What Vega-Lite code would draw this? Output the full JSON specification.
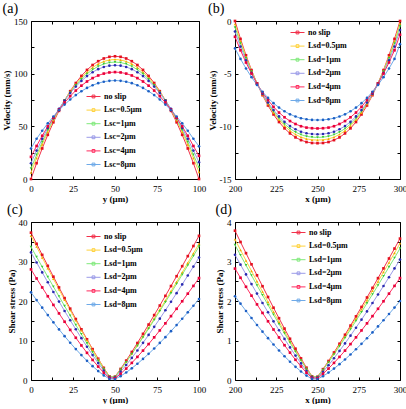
{
"$schema":"https://vega.github.io/schema/vega-lite/v6.json",
"padding":{"left":2,"top":2,"right":0,"bottom":0},
"config":{
"font":"Liberation Serif",
"view":{"stroke":null},
"axis":{"labelFont":"Liberation Serif","labelFontSize":9,"labelColor":"black","titleFont":"Liberation Serif","titleFontSize":9,"titleFontWeight":"bold","titleColor":"black","domainColor":"black","tickColor":"black","grid":false,"tickSize":-3,"labelPadding":6,"domainWidth":1,"tickWidth":1,"labelFlush":false,"titlePadding":2},
"axisX":{"labelPadding":8,"titlePadding":1},
"axisY":{"labelPadding":7},
"legend":{"orient":"none","labelFont":"Liberation Serif","labelFontSize":8,"labelFontWeight":"bold","labelColor":"black","padding":0,"rowPadding":1.6,"symbolType":"M-1,0H1M-0.2,-0.2H0.2V0.2H-0.2Z","symbolSize":196,"symbolStrokeWidth":1,"labelOffset":3},
"title":{"font":"Liberation Serif","fontSize":14,"fontWeight":"normal","anchor":"start","frame":"bounds","offset":1,"color":"black"}
},
"datasets":{
"a":[
{"s":"no slip","x":0,"y":0},{"s":"no slip","x":3.33,"y":15.02},{"s":"no slip","x":6.67,"y":29},{"s":"no slip","x":10,"y":41.94},{"s":"no slip","x":13.33,"y":53.85},{"s":"no slip","x":16.67,"y":64.72},{"s":"no slip","x":20,"y":74.56},{"s":"no slip","x":23.33,"y":83.37},{"s":"no slip","x":26.67,"y":91.13},{"s":"no slip","x":30,"y":97.86},{"s":"no slip","x":33.33,"y":103.56},{"s":"no slip","x":36.67,"y":108.22},{"s":"no slip","x":40,"y":111.84},{"s":"no slip","x":43.33,"y":114.43},{"s":"no slip","x":46.67,"y":115.99},{"s":"no slip","x":50,"y":116.5},{"s":"no slip","x":53.33,"y":115.99},{"s":"no slip","x":56.67,"y":114.43},{"s":"no slip","x":60,"y":111.84},{"s":"no slip","x":63.33,"y":108.22},{"s":"no slip","x":66.67,"y":103.56},{"s":"no slip","x":70,"y":97.86},{"s":"no slip","x":73.33,"y":91.13},{"s":"no slip","x":76.67,"y":83.37},{"s":"no slip","x":80,"y":74.56},{"s":"no slip","x":83.33,"y":64.72},{"s":"no slip","x":86.67,"y":53.85},{"s":"no slip","x":90,"y":41.94},{"s":"no slip","x":93.33,"y":29},{"s":"no slip","x":96.67,"y":15.02},{"s":"no slip","x":100,"y":0},
{"s":"0.5","x":0,"y":6},{"s":"0.5","x":3.33,"y":19.86},{"s":"0.5","x":6.67,"y":32.76},{"s":"0.5","x":10,"y":44.7},{"s":"0.5","x":13.33,"y":55.69},{"s":"0.5","x":16.67,"y":65.73},{"s":"0.5","x":20,"y":74.8},{"s":"0.5","x":23.33,"y":82.93},{"s":"0.5","x":26.67,"y":90.09},{"s":"0.5","x":30,"y":96.3},{"s":"0.5","x":33.33,"y":101.56},{"s":"0.5","x":36.67,"y":105.86},{"s":"0.5","x":40,"y":109.2},{"s":"0.5","x":43.33,"y":111.59},{"s":"0.5","x":46.67,"y":113.03},{"s":"0.5","x":50,"y":113.5},{"s":"0.5","x":53.33,"y":113.03},{"s":"0.5","x":56.67,"y":111.59},{"s":"0.5","x":60,"y":109.2},{"s":"0.5","x":63.33,"y":105.86},{"s":"0.5","x":66.67,"y":101.56},{"s":"0.5","x":70,"y":96.3},{"s":"0.5","x":73.33,"y":90.09},{"s":"0.5","x":76.67,"y":82.93},{"s":"0.5","x":80,"y":74.8},{"s":"0.5","x":83.33,"y":65.73},{"s":"0.5","x":86.67,"y":55.69},{"s":"0.5","x":90,"y":44.7},{"s":"0.5","x":93.33,"y":32.76},{"s":"0.5","x":96.67,"y":19.86},{"s":"0.5","x":100,"y":6.5},
{"s":"1","x":0,"y":10},{"s":"1","x":3.33,"y":23.02},{"s":"1","x":6.67,"y":35.14},{"s":"1","x":10,"y":46.36},{"s":"1","x":13.33,"y":56.68},{"s":"1","x":16.67,"y":66.11},{"s":"1","x":20,"y":74.64},{"s":"1","x":23.33,"y":82.28},{"s":"1","x":26.67,"y":89},{"s":"1","x":30,"y":94.84},{"s":"1","x":33.33,"y":99.78},{"s":"1","x":36.67,"y":103.82},{"s":"1","x":40,"y":106.96},{"s":"1","x":43.33,"y":109.2},{"s":"1","x":46.67,"y":110.56},{"s":"1","x":50,"y":111},{"s":"1","x":53.33,"y":110.56},{"s":"1","x":56.67,"y":109.2},{"s":"1","x":60,"y":106.96},{"s":"1","x":63.33,"y":103.82},{"s":"1","x":66.67,"y":99.78},{"s":"1","x":70,"y":94.84},{"s":"1","x":73.33,"y":89},{"s":"1","x":76.67,"y":82.28},{"s":"1","x":80,"y":74.64},{"s":"1","x":83.33,"y":66.11},{"s":"1","x":86.67,"y":56.68},{"s":"1","x":90,"y":46.36},{"s":"1","x":93.33,"y":35.14},{"s":"1","x":96.67,"y":23.02},{"s":"1","x":100,"y":11},
{"s":"2","x":0,"y":15},{"s":"2","x":3.33,"y":26.99},{"s":"2","x":6.67,"y":38.15},{"s":"2","x":10,"y":48.48},{"s":"2","x":13.33,"y":57.98},{"s":"2","x":16.67,"y":66.67},{"s":"2","x":20,"y":74.52},{"s":"2","x":23.33,"y":81.55},{"s":"2","x":26.67,"y":87.74},{"s":"2","x":30,"y":93.12},{"s":"2","x":33.33,"y":97.67},{"s":"2","x":36.67,"y":101.39},{"s":"2","x":40,"y":104.28},{"s":"2","x":43.33,"y":106.34},{"s":"2","x":46.67,"y":107.59},{"s":"2","x":50,"y":108},{"s":"2","x":53.33,"y":107.59},{"s":"2","x":56.67,"y":106.34},{"s":"2","x":60,"y":104.28},{"s":"2","x":63.33,"y":101.39},{"s":"2","x":66.67,"y":97.67},{"s":"2","x":70,"y":93.12},{"s":"2","x":73.33,"y":87.74},{"s":"2","x":76.67,"y":81.55},{"s":"2","x":80,"y":74.52},{"s":"2","x":83.33,"y":66.67},{"s":"2","x":86.67,"y":57.98},{"s":"2","x":90,"y":48.48},{"s":"2","x":93.33,"y":38.15},{"s":"2","x":96.67,"y":26.99},{"s":"2","x":100,"y":16},
{"s":"4","x":0,"y":21},{"s":"4","x":3.33,"y":31.38},{"s":"4","x":6.67,"y":41.04},{"s":"4","x":10,"y":49.98},{"s":"4","x":13.33,"y":58.21},{"s":"4","x":16.67,"y":65.73},{"s":"4","x":20,"y":72.52},{"s":"4","x":23.33,"y":78.61},{"s":"4","x":26.67,"y":83.97},{"s":"4","x":30,"y":88.62},{"s":"4","x":33.33,"y":92.56},{"s":"4","x":36.67,"y":95.78},{"s":"4","x":40,"y":98.28},{"s":"4","x":43.33,"y":100.07},{"s":"4","x":46.67,"y":101.15},{"s":"4","x":50,"y":101.5},{"s":"4","x":53.33,"y":101.15},{"s":"4","x":56.67,"y":100.07},{"s":"4","x":60,"y":98.28},{"s":"4","x":63.33,"y":95.78},{"s":"4","x":66.67,"y":92.56},{"s":"4","x":70,"y":88.62},{"s":"4","x":73.33,"y":83.97},{"s":"4","x":76.67,"y":78.61},{"s":"4","x":80,"y":72.52},{"s":"4","x":83.33,"y":65.73},{"s":"4","x":86.67,"y":58.21},{"s":"4","x":90,"y":49.98},{"s":"4","x":93.33,"y":41.04},{"s":"4","x":96.67,"y":31.38},{"s":"4","x":100,"y":22},
{"s":"8","x":0,"y":29},{"s":"8","x":3.33,"y":38.19},{"s":"8","x":6.67,"y":45.81},{"s":"8","x":10,"y":52.86},{"s":"8","x":13.33,"y":59.35},{"s":"8","x":16.67,"y":65.28},{"s":"8","x":20,"y":70.64},{"s":"8","x":23.33,"y":75.44},{"s":"8","x":26.67,"y":79.67},{"s":"8","x":30,"y":83.34},{"s":"8","x":33.33,"y":86.45},{"s":"8","x":36.67,"y":88.99},{"s":"8","x":40,"y":90.96},{"s":"8","x":43.33,"y":92.37},{"s":"8","x":46.67,"y":93.22},{"s":"8","x":50,"y":93.5},{"s":"8","x":53.33,"y":93.22},{"s":"8","x":56.67,"y":92.37},{"s":"8","x":60,"y":90.96},{"s":"8","x":63.33,"y":88.99},{"s":"8","x":66.67,"y":86.45},{"s":"8","x":70,"y":83.34},{"s":"8","x":73.33,"y":79.67},{"s":"8","x":76.67,"y":75.44},{"s":"8","x":80,"y":70.64},{"s":"8","x":83.33,"y":65.28},{"s":"8","x":86.67,"y":59.35},{"s":"8","x":90,"y":52.86},{"s":"8","x":93.33,"y":45.81},{"s":"8","x":96.67,"y":38.19},{"s":"8","x":100,"y":31}
],
"b":[
{"s":"no slip","x":200,"y":0},{"s":"no slip","x":203.33,"y":-1.7},{"s":"no slip","x":206.67,"y":-3.25},{"s":"no slip","x":210,"y":-4.66},{"s":"no slip","x":213.33,"y":-5.92},{"s":"no slip","x":216.67,"y":-7.04},{"s":"no slip","x":220,"y":-8.02},{"s":"no slip","x":223.33,"y":-8.87},{"s":"no slip","x":226.67,"y":-9.59},{"s":"no slip","x":230,"y":-10.19},{"s":"no slip","x":233.33,"y":-10.67},{"s":"no slip","x":236.67,"y":-11.05},{"s":"no slip","x":240,"y":-11.31},{"s":"no slip","x":243.33,"y":-11.49},{"s":"no slip","x":246.67,"y":-11.58},{"s":"no slip","x":250,"y":-11.6},{"s":"no slip","x":253.33,"y":-11.58},{"s":"no slip","x":256.67,"y":-11.49},{"s":"no slip","x":260,"y":-11.31},{"s":"no slip","x":263.33,"y":-11.05},{"s":"no slip","x":266.67,"y":-10.67},{"s":"no slip","x":270,"y":-10.19},{"s":"no slip","x":273.33,"y":-9.59},{"s":"no slip","x":276.67,"y":-8.87},{"s":"no slip","x":280,"y":-8.02},{"s":"no slip","x":283.33,"y":-7.04},{"s":"no slip","x":286.67,"y":-5.92},{"s":"no slip","x":290,"y":-4.66},{"s":"no slip","x":293.33,"y":-3.25},{"s":"no slip","x":296.67,"y":-1.7},{"s":"no slip","x":300,"y":0},
{"s":"0.5","x":200,"y":-0.3},{"s":"0.5","x":203.33,"y":-1.91},{"s":"0.5","x":206.67,"y":-3.38},{"s":"0.5","x":210,"y":-4.72},{"s":"0.5","x":213.33,"y":-5.91},{"s":"0.5","x":216.67,"y":-6.97},{"s":"0.5","x":220,"y":-7.9},{"s":"0.5","x":223.33,"y":-8.71},{"s":"0.5","x":226.67,"y":-9.39},{"s":"0.5","x":230,"y":-9.96},{"s":"0.5","x":233.33,"y":-10.42},{"s":"0.5","x":236.67,"y":-10.77},{"s":"0.5","x":240,"y":-11.03},{"s":"0.5","x":243.33,"y":-11.19},{"s":"0.5","x":246.67,"y":-11.28},{"s":"0.5","x":250,"y":-11.3},{"s":"0.5","x":253.33,"y":-11.28},{"s":"0.5","x":256.67,"y":-11.19},{"s":"0.5","x":260,"y":-11.03},{"s":"0.5","x":263.33,"y":-10.77},{"s":"0.5","x":266.67,"y":-10.42},{"s":"0.5","x":270,"y":-9.96},{"s":"0.5","x":273.33,"y":-9.39},{"s":"0.5","x":276.67,"y":-8.71},{"s":"0.5","x":280,"y":-7.9},{"s":"0.5","x":283.33,"y":-6.97},{"s":"0.5","x":286.67,"y":-5.91},{"s":"0.5","x":290,"y":-4.72},{"s":"0.5","x":293.33,"y":-3.38},{"s":"0.5","x":296.67,"y":-1.91},{"s":"0.5","x":300,"y":-0.25},
{"s":"1","x":200,"y":-0.6},{"s":"1","x":203.33,"y":-2.13},{"s":"1","x":206.67,"y":-3.53},{"s":"1","x":210,"y":-4.79},{"s":"1","x":213.33,"y":-5.93},{"s":"1","x":216.67,"y":-6.94},{"s":"1","x":220,"y":-7.82},{"s":"1","x":223.33,"y":-8.59},{"s":"1","x":226.67,"y":-9.24},{"s":"1","x":230,"y":-9.78},{"s":"1","x":233.33,"y":-10.22},{"s":"1","x":236.67,"y":-10.55},{"s":"1","x":240,"y":-10.79},{"s":"1","x":243.33,"y":-10.95},{"s":"1","x":246.67,"y":-11.03},{"s":"1","x":250,"y":-11.05},{"s":"1","x":253.33,"y":-11.03},{"s":"1","x":256.67,"y":-10.95},{"s":"1","x":260,"y":-10.79},{"s":"1","x":263.33,"y":-10.55},{"s":"1","x":266.67,"y":-10.22},{"s":"1","x":270,"y":-9.78},{"s":"1","x":273.33,"y":-9.24},{"s":"1","x":276.67,"y":-8.59},{"s":"1","x":280,"y":-7.82},{"s":"1","x":283.33,"y":-6.94},{"s":"1","x":286.67,"y":-5.93},{"s":"1","x":290,"y":-4.79},{"s":"1","x":293.33,"y":-3.53},{"s":"1","x":296.67,"y":-2.13},{"s":"1","x":300,"y":-0.5},
{"s":"2","x":200,"y":-1},{"s":"2","x":203.33,"y":-2.43},{"s":"2","x":206.67,"y":-3.73},{"s":"2","x":210,"y":-4.91},{"s":"2","x":213.33,"y":-5.97},{"s":"2","x":216.67,"y":-6.91},{"s":"2","x":220,"y":-7.74},{"s":"2","x":223.33,"y":-8.45},{"s":"2","x":226.67,"y":-9.06},{"s":"2","x":230,"y":-9.57},{"s":"2","x":233.33,"y":-9.97},{"s":"2","x":236.67,"y":-10.28},{"s":"2","x":240,"y":-10.51},{"s":"2","x":243.33,"y":-10.66},{"s":"2","x":246.67,"y":-10.73},{"s":"2","x":250,"y":-10.75},{"s":"2","x":253.33,"y":-10.73},{"s":"2","x":256.67,"y":-10.66},{"s":"2","x":260,"y":-10.51},{"s":"2","x":263.33,"y":-10.28},{"s":"2","x":266.67,"y":-9.97},{"s":"2","x":270,"y":-9.57},{"s":"2","x":273.33,"y":-9.06},{"s":"2","x":276.67,"y":-8.45},{"s":"2","x":280,"y":-7.74},{"s":"2","x":283.33,"y":-6.91},{"s":"2","x":286.67,"y":-5.97},{"s":"2","x":290,"y":-4.91},{"s":"2","x":293.33,"y":-3.73},{"s":"2","x":296.67,"y":-2.43},{"s":"2","x":300,"y":-0.85},
{"s":"4","x":200,"y":-1.5},{"s":"4","x":203.33,"y":-2.78},{"s":"4","x":206.67,"y":-3.94},{"s":"4","x":210,"y":-4.99},{"s":"4","x":213.33,"y":-5.94},{"s":"4","x":216.67,"y":-6.78},{"s":"4","x":220,"y":-7.51},{"s":"4","x":223.33,"y":-8.15},{"s":"4","x":226.67,"y":-8.69},{"s":"4","x":230,"y":-9.14},{"s":"4","x":233.33,"y":-9.5},{"s":"4","x":236.67,"y":-9.78},{"s":"4","x":240,"y":-9.99},{"s":"4","x":243.33,"y":-10.12},{"s":"4","x":246.67,"y":-10.18},{"s":"4","x":250,"y":-10.2},{"s":"4","x":253.33,"y":-10.18},{"s":"4","x":256.67,"y":-10.12},{"s":"4","x":260,"y":-9.99},{"s":"4","x":263.33,"y":-9.78},{"s":"4","x":266.67,"y":-9.5},{"s":"4","x":270,"y":-9.14},{"s":"4","x":273.33,"y":-8.69},{"s":"4","x":276.67,"y":-8.15},{"s":"4","x":280,"y":-7.51},{"s":"4","x":283.33,"y":-6.78},{"s":"4","x":286.67,"y":-5.94},{"s":"4","x":290,"y":-4.99},{"s":"4","x":293.33,"y":-3.94},{"s":"4","x":296.67,"y":-2.78},{"s":"4","x":300,"y":-1.3},
{"s":"8","x":200,"y":-2.6},{"s":"8","x":203.33,"y":-3.6},{"s":"8","x":206.67,"y":-4.51},{"s":"8","x":210,"y":-5.33},{"s":"8","x":213.33,"y":-6.07},{"s":"8","x":216.67,"y":-6.72},{"s":"8","x":220,"y":-7.3},{"s":"8","x":223.33,"y":-7.8},{"s":"8","x":226.67,"y":-8.22},{"s":"8","x":230,"y":-8.57},{"s":"8","x":233.33,"y":-8.86},{"s":"8","x":236.67,"y":-9.07},{"s":"8","x":240,"y":-9.23},{"s":"8","x":243.33,"y":-9.33},{"s":"8","x":246.67,"y":-9.39},{"s":"8","x":250,"y":-9.4},{"s":"8","x":253.33,"y":-9.39},{"s":"8","x":256.67,"y":-9.33},{"s":"8","x":260,"y":-9.23},{"s":"8","x":263.33,"y":-9.07},{"s":"8","x":266.67,"y":-8.86},{"s":"8","x":270,"y":-8.57},{"s":"8","x":273.33,"y":-8.22},{"s":"8","x":276.67,"y":-7.8},{"s":"8","x":280,"y":-7.3},{"s":"8","x":283.33,"y":-6.72},{"s":"8","x":286.67,"y":-6.07},{"s":"8","x":290,"y":-5.33},{"s":"8","x":293.33,"y":-4.51},{"s":"8","x":296.67,"y":-3.6},{"s":"8","x":300,"y":-2.2}
],
"c":[
{"s":"no slip","x":0,"y":37.3},{"s":"no slip","x":3.33,"y":34.48},{"s":"no slip","x":6.67,"y":31.68},{"s":"no slip","x":10,"y":28.9},{"s":"no slip","x":13.33,"y":26.15},{"s":"no slip","x":16.67,"y":23.43},{"s":"no slip","x":20,"y":20.73},{"s":"no slip","x":23.33,"y":18.06},{"s":"no slip","x":26.67,"y":15.43},{"s":"no slip","x":30,"y":12.84},{"s":"no slip","x":33.33,"y":10.3},{"s":"no slip","x":36.67,"y":7.81},{"s":"no slip","x":40,"y":5.39},{"s":"no slip","x":43.33,"y":3.07},{"s":"no slip","x":46.67,"y":0.92},{"s":"no slip","x":50,"y":0.84},{"s":"no slip","x":53.33,"y":2.8},{"s":"no slip","x":56.67,"y":4.91},{"s":"no slip","x":60,"y":7.1},{"s":"no slip","x":63.33,"y":9.36},{"s":"no slip","x":66.67,"y":11.68},{"s":"no slip","x":70,"y":14.03},{"s":"no slip","x":73.33,"y":16.43},{"s":"no slip","x":76.67,"y":18.85},{"s":"no slip","x":80,"y":21.3},{"s":"no slip","x":83.33,"y":23.78},{"s":"no slip","x":86.67,"y":26.28},{"s":"no slip","x":90,"y":28.81},{"s":"no slip","x":93.33,"y":31.36},{"s":"no slip","x":96.67,"y":33.92},{"s":"no slip","x":100,"y":36.5},
{"s":"0.5","x":0,"y":36.5},{"s":"0.5","x":3.33,"y":33.74},{"s":"0.5","x":6.67,"y":31},{"s":"0.5","x":10,"y":28.28},{"s":"0.5","x":13.33,"y":25.59},{"s":"0.5","x":16.67,"y":22.93},{"s":"0.5","x":20,"y":20.28},{"s":"0.5","x":23.33,"y":17.67},{"s":"0.5","x":26.67,"y":15.1},{"s":"0.5","x":30,"y":12.57},{"s":"0.5","x":33.33,"y":10.08},{"s":"0.5","x":36.67,"y":7.64},{"s":"0.5","x":40,"y":5.28},{"s":"0.5","x":43.33,"y":3.01},{"s":"0.5","x":46.67,"y":0.9},{"s":"0.5","x":50,"y":0.79},{"s":"0.5","x":53.33,"y":2.64},{"s":"0.5","x":56.67,"y":4.64},{"s":"0.5","x":60,"y":6.71},{"s":"0.5","x":63.33,"y":8.85},{"s":"0.5","x":66.67,"y":11.04},{"s":"0.5","x":70,"y":13.27},{"s":"0.5","x":73.33,"y":15.53},{"s":"0.5","x":76.67,"y":17.82},{"s":"0.5","x":80,"y":20.13},{"s":"0.5","x":83.33,"y":22.48},{"s":"0.5","x":86.67,"y":24.84},{"s":"0.5","x":90,"y":27.23},{"s":"0.5","x":93.33,"y":29.64},{"s":"0.5","x":96.67,"y":32.06},{"s":"0.5","x":100,"y":34.5},
{"s":"1","x":0,"y":33.7},{"s":"1","x":3.33,"y":31.15},{"s":"1","x":6.67,"y":28.62},{"s":"1","x":10,"y":26.11},{"s":"1","x":13.33,"y":23.63},{"s":"1","x":16.67,"y":21.17},{"s":"1","x":20,"y":18.73},{"s":"1","x":23.33,"y":16.32},{"s":"1","x":26.67,"y":13.94},{"s":"1","x":30,"y":11.6},{"s":"1","x":33.33,"y":9.3},{"s":"1","x":36.67,"y":7.06},{"s":"1","x":40,"y":4.87},{"s":"1","x":43.33,"y":2.78},{"s":"1","x":46.67,"y":0.83},{"s":"1","x":50,"y":0.77},{"s":"1","x":53.33,"y":2.59},{"s":"1","x":56.67,"y":4.54},{"s":"1","x":60,"y":6.58},{"s":"1","x":63.33,"y":8.67},{"s":"1","x":66.67,"y":10.81},{"s":"1","x":70,"y":13},{"s":"1","x":73.33,"y":15.21},{"s":"1","x":76.67,"y":17.45},{"s":"1","x":80,"y":19.73},{"s":"1","x":83.33,"y":22.02},{"s":"1","x":86.67,"y":24.34},{"s":"1","x":90,"y":26.68},{"s":"1","x":93.33,"y":29.04},{"s":"1","x":96.67,"y":31.41},{"s":"1","x":100,"y":33.8},
{"s":"2","x":0,"y":32.3},{"s":"2","x":3.33,"y":29.75},{"s":"2","x":6.67,"y":27.23},{"s":"2","x":10,"y":24.74},{"s":"2","x":13.33,"y":22.28},{"s":"2","x":16.67,"y":19.86},{"s":"2","x":20,"y":17.48},{"s":"2","x":23.33,"y":15.13},{"s":"2","x":26.67,"y":12.84},{"s":"2","x":30,"y":10.59},{"s":"2","x":33.33,"y":8.41},{"s":"2","x":36.67,"y":6.3},{"s":"2","x":40,"y":4.28},{"s":"2","x":43.33,"y":2.38},{"s":"2","x":46.67,"y":0.67},{"s":"2","x":50,"y":0.6},{"s":"2","x":53.33,"y":2.11},{"s":"2","x":56.67,"y":3.8},{"s":"2","x":60,"y":5.6},{"s":"2","x":63.33,"y":7.48},{"s":"2","x":66.67,"y":9.41},{"s":"2","x":70,"y":11.41},{"s":"2","x":73.33,"y":13.45},{"s":"2","x":76.67,"y":15.53},{"s":"2","x":80,"y":17.66},{"s":"2","x":83.33,"y":19.81},{"s":"2","x":86.67,"y":21.99},{"s":"2","x":90,"y":24.2},{"s":"2","x":93.33,"y":26.45},{"s":"2","x":96.67,"y":28.71},{"s":"2","x":100,"y":31},
{"s":"4","x":0,"y":28},{"s":"4","x":3.33,"y":25.7},{"s":"4","x":6.67,"y":23.43},{"s":"4","x":10,"y":21.2},{"s":"4","x":13.33,"y":19.01},{"s":"4","x":16.67,"y":16.86},{"s":"4","x":20,"y":14.75},{"s":"4","x":23.33,"y":12.69},{"s":"4","x":26.67,"y":10.69},{"s":"4","x":30,"y":8.75},{"s":"4","x":33.33,"y":6.88},{"s":"4","x":36.67,"y":5.08},{"s":"4","x":40,"y":3.4},{"s":"4","x":43.33,"y":1.84},{"s":"4","x":46.67,"y":0.49},{"s":"4","x":50,"y":0.42},{"s":"4","x":53.33,"y":1.57},{"s":"4","x":56.67,"y":2.89},{"s":"4","x":60,"y":4.33},{"s":"4","x":63.33,"y":5.85},{"s":"4","x":66.67,"y":7.44},{"s":"4","x":70,"y":9.09},{"s":"4","x":73.33,"y":10.8},{"s":"4","x":76.67,"y":12.55},{"s":"4","x":80,"y":14.34},{"s":"4","x":83.33,"y":16.17},{"s":"4","x":86.67,"y":18.03},{"s":"4","x":90,"y":19.93},{"s":"4","x":93.33,"y":21.86},{"s":"4","x":96.67,"y":23.82},{"s":"4","x":100,"y":25.8},
{"s":"8","x":0,"y":22.2},{"s":"8","x":3.33,"y":20.23},{"s":"8","x":6.67,"y":18.31},{"s":"8","x":10,"y":16.43},{"s":"8","x":13.33,"y":14.59},{"s":"8","x":16.67,"y":12.81},{"s":"8","x":20,"y":11.09},{"s":"8","x":23.33,"y":9.42},{"s":"8","x":26.67,"y":7.82},{"s":"8","x":30,"y":6.3},{"s":"8","x":33.33,"y":4.85},{"s":"8","x":36.67,"y":3.5},{"s":"8","x":40,"y":2.26},{"s":"8","x":43.33,"y":1.16},{"s":"8","x":46.67,"y":0.28},{"s":"8","x":50,"y":0.24},{"s":"8","x":53.33,"y":0.98},{"s":"8","x":56.67,"y":1.91},{"s":"8","x":60,"y":2.96},{"s":"8","x":63.33,"y":4.11},{"s":"8","x":66.67,"y":5.33},{"s":"8","x":70,"y":6.62},{"s":"8","x":73.33,"y":7.98},{"s":"8","x":76.67,"y":9.39},{"s":"8","x":80,"y":10.85},{"s":"8","x":83.33,"y":12.36},{"s":"8","x":86.67,"y":13.91},{"s":"8","x":90,"y":15.5},{"s":"8","x":93.33,"y":17.13},{"s":"8","x":96.67,"y":18.8},{"s":"8","x":100,"y":20.5}
],
"d":[
{"s":"no slip","x":200,"y":3.78},{"s":"no slip","x":203.33,"y":3.494},{"s":"no slip","x":206.67,"y":3.211},{"s":"no slip","x":210,"y":2.929},{"s":"no slip","x":213.33,"y":2.65},{"s":"no slip","x":216.67,"y":2.374},{"s":"no slip","x":220,"y":2.101},{"s":"no slip","x":223.33,"y":1.83},{"s":"no slip","x":226.67,"y":1.564},{"s":"no slip","x":230,"y":1.301},{"s":"no slip","x":233.33,"y":1.044},{"s":"no slip","x":236.67,"y":0.792},{"s":"no slip","x":240,"y":0.547},{"s":"no slip","x":243.33,"y":0.311},{"s":"no slip","x":246.67,"y":0.093},{"s":"no slip","x":250,"y":0.082},{"s":"no slip","x":253.33,"y":0.274},{"s":"no slip","x":256.67,"y":0.481},{"s":"no slip","x":260,"y":0.697},{"s":"no slip","x":263.33,"y":0.918},{"s":"no slip","x":266.67,"y":1.145},{"s":"no slip","x":270,"y":1.377},{"s":"no slip","x":273.33,"y":1.611},{"s":"no slip","x":276.67,"y":1.849},{"s":"no slip","x":280,"y":2.089},{"s":"no slip","x":283.33,"y":2.332},{"s":"no slip","x":286.67,"y":2.578},{"s":"no slip","x":290,"y":2.826},{"s":"no slip","x":293.33,"y":3.076},{"s":"no slip","x":296.67,"y":3.327},{"s":"no slip","x":300,"y":3.58},
{"s":"0.5","x":200,"y":3.56},{"s":"0.5","x":203.33,"y":3.291},{"s":"0.5","x":206.67,"y":3.024},{"s":"0.5","x":210,"y":2.759},{"s":"0.5","x":213.33,"y":2.496},{"s":"0.5","x":216.67,"y":2.236},{"s":"0.5","x":220,"y":1.978},{"s":"0.5","x":223.33,"y":1.724},{"s":"0.5","x":226.67,"y":1.473},{"s":"0.5","x":230,"y":1.226},{"s":"0.5","x":233.33,"y":0.983},{"s":"0.5","x":236.67,"y":0.745},{"s":"0.5","x":240,"y":0.515},{"s":"0.5","x":243.33,"y":0.293},{"s":"0.5","x":246.67,"y":0.088},{"s":"0.5","x":250,"y":0.079},{"s":"0.5","x":253.33,"y":0.265},{"s":"0.5","x":256.67,"y":0.465},{"s":"0.5","x":260,"y":0.673},{"s":"0.5","x":263.33,"y":0.887},{"s":"0.5","x":266.67,"y":1.107},{"s":"0.5","x":270,"y":1.33},{"s":"0.5","x":273.33,"y":1.557},{"s":"0.5","x":276.67,"y":1.787},{"s":"0.5","x":280,"y":2.019},{"s":"0.5","x":283.33,"y":2.254},{"s":"0.5","x":286.67,"y":2.492},{"s":"0.5","x":290,"y":2.731},{"s":"0.5","x":293.33,"y":2.972},{"s":"0.5","x":296.67,"y":3.215},{"s":"0.5","x":300,"y":3.46},
{"s":"1","x":200,"y":3.42},{"s":"1","x":203.33,"y":3.161},{"s":"1","x":206.67,"y":2.905},{"s":"1","x":210,"y":2.65},{"s":"1","x":213.33,"y":2.398},{"s":"1","x":216.67,"y":2.148},{"s":"1","x":220,"y":1.9},{"s":"1","x":223.33,"y":1.656},{"s":"1","x":226.67,"y":1.415},{"s":"1","x":230,"y":1.178},{"s":"1","x":233.33,"y":0.944},{"s":"1","x":236.67,"y":0.716},{"s":"1","x":240,"y":0.495},{"s":"1","x":243.33,"y":0.282},{"s":"1","x":246.67,"y":0.084},{"s":"1","x":250,"y":0.076},{"s":"1","x":253.33,"y":0.255},{"s":"1","x":256.67,"y":0.448},{"s":"1","x":260,"y":0.648},{"s":"1","x":263.33,"y":0.854},{"s":"1","x":266.67,"y":1.065},{"s":"1","x":270,"y":1.28},{"s":"1","x":273.33,"y":1.499},{"s":"1","x":276.67,"y":1.72},{"s":"1","x":280,"y":1.943},{"s":"1","x":283.33,"y":2.169},{"s":"1","x":286.67,"y":2.398},{"s":"1","x":290,"y":2.628},{"s":"1","x":293.33,"y":2.861},{"s":"1","x":296.67,"y":3.094},{"s":"1","x":300,"y":3.33},
{"s":"2","x":200,"y":3.17},{"s":"2","x":203.33,"y":2.92},{"s":"2","x":206.67,"y":2.673},{"s":"2","x":210,"y":2.428},{"s":"2","x":213.33,"y":2.187},{"s":"2","x":216.67,"y":1.95},{"s":"2","x":220,"y":1.715},{"s":"2","x":223.33,"y":1.485},{"s":"2","x":226.67,"y":1.26},{"s":"2","x":230,"y":1.04},{"s":"2","x":233.33,"y":0.825},{"s":"2","x":236.67,"y":0.618},{"s":"2","x":240,"y":0.42},{"s":"2","x":243.33,"y":0.233},{"s":"2","x":246.67,"y":0.066},{"s":"2","x":250,"y":0.059},{"s":"2","x":253.33,"y":0.208},{"s":"2","x":256.67,"y":0.374},{"s":"2","x":260,"y":0.551},{"s":"2","x":263.33,"y":0.736},{"s":"2","x":266.67,"y":0.926},{"s":"2","x":270,"y":1.123},{"s":"2","x":273.33,"y":1.324},{"s":"2","x":276.67,"y":1.528},{"s":"2","x":280,"y":1.737},{"s":"2","x":283.33,"y":1.949},{"s":"2","x":286.67,"y":2.164},{"s":"2","x":290,"y":2.381},{"s":"2","x":293.33,"y":2.602},{"s":"2","x":296.67,"y":2.825},{"s":"2","x":300,"y":3.05},
{"s":"4","x":200,"y":2.82},{"s":"4","x":203.33,"y":2.588},{"s":"4","x":206.67,"y":2.36},{"s":"4","x":210,"y":2.135},{"s":"4","x":213.33,"y":1.914},{"s":"4","x":216.67,"y":1.698},{"s":"4","x":220,"y":1.486},{"s":"4","x":223.33,"y":1.278},{"s":"4","x":226.67,"y":1.077},{"s":"4","x":230,"y":0.881},{"s":"4","x":233.33,"y":0.693},{"s":"4","x":236.67,"y":0.512},{"s":"4","x":240,"y":0.342},{"s":"4","x":243.33,"y":0.185},{"s":"4","x":246.67,"y":0.05},{"s":"4","x":250,"y":0.042},{"s":"4","x":253.33,"y":0.157},{"s":"4","x":256.67,"y":0.289},{"s":"4","x":260,"y":0.433},{"s":"4","x":263.33,"y":0.585},{"s":"4","x":266.67,"y":0.744},{"s":"4","x":270,"y":0.909},{"s":"4","x":273.33,"y":1.08},{"s":"4","x":276.67,"y":1.255},{"s":"4","x":280,"y":1.434},{"s":"4","x":283.33,"y":1.617},{"s":"4","x":286.67,"y":1.803},{"s":"4","x":290,"y":1.993},{"s":"4","x":293.33,"y":2.186},{"s":"4","x":296.67,"y":2.382},{"s":"4","x":300,"y":2.58},
{"s":"8","x":200,"y":2.12},{"s":"8","x":203.33,"y":1.932},{"s":"8","x":206.67,"y":1.748},{"s":"8","x":210,"y":1.569},{"s":"8","x":213.33,"y":1.393},{"s":"8","x":216.67,"y":1.224},{"s":"8","x":220,"y":1.059},{"s":"8","x":223.33,"y":0.9},{"s":"8","x":226.67,"y":0.747},{"s":"8","x":230,"y":0.601},{"s":"8","x":233.33,"y":0.463},{"s":"8","x":236.67,"y":0.334},{"s":"8","x":240,"y":0.216},{"s":"8","x":243.33,"y":0.111},{"s":"8","x":246.67,"y":0.027},{"s":"8","x":250,"y":0.023},{"s":"8","x":253.33,"y":0.096},{"s":"8","x":256.67,"y":0.187},{"s":"8","x":260,"y":0.289},{"s":"8","x":263.33,"y":0.401},{"s":"8","x":266.67,"y":0.52},{"s":"8","x":270,"y":0.646},{"s":"8","x":273.33,"y":0.778},{"s":"8","x":276.67,"y":0.916},{"s":"8","x":280,"y":1.058},{"s":"8","x":283.33,"y":1.205},{"s":"8","x":286.67,"y":1.357},{"s":"8","x":290,"y":1.512},{"s":"8","x":293.33,"y":1.671},{"s":"8","x":296.67,"y":1.834},{"s":"8","x":300,"y":2.0}
]
},
"columns":2,
"spacing":{"row":0,"column":2},
"concat":[
{"title":{"text":"(a)"},"width":168,"height":158,"data":{"name":"a"},
"layer":[
{"mark":{"type":"line","strokeWidth":1},
"encoding":{
"x":{"field":"x","type":"quantitative","scale":{"domain":[0,100],"nice":false},"axis":{"title":"y (μm)","orient":"bottom","values":[0,12.5,25,37.5,50,62.5,75,87.5,100],"labelExpr":"datum.value % 25 == 0 ? '' + datum.value : ''"}},
"y":{"field":"y","type":"quantitative","scale":{"domain":[0,150],"nice":false},"axis":{"title":"Velocity (mm/s)","orient":"left","values":[0,25,50,75,100,125,150],"labelExpr":"datum.value % 50 == 0 ? '' + datum.value : ''"}},
"color":{"field":"s","type":"nominal","scale":{"domain":["no slip","0.5","1","2","4","8"],"range":["#f2314b","#ffd23c","#7fe97a","#9b9be8","#ff2c5f","#6faae8"]},"legend":{"title":null,"legendX":55,"legendY":68,"labelExpr":"datum.label == 'no slip' ? 'no slip' : 'Lsc=' + datum.label + 'μm'"}}
}},
{"mark":{"type":"point","filled":true,"size":7,"opacity":1},
"encoding":{
"x":{"field":"x","type":"quantitative","axis":{"title":null,"orient":"top","labels":false,"values":[0,12.5,25,37.5,50,62.5,75,87.5,100]}},
"y":{"field":"y","type":"quantitative","axis":{"title":null,"orient":"right","labels":false,"values":[0,25,50,75,100,125,150]}},
"color":{"field":"s","type":"nominal","scale":{"domain":["no slip","0.5","1","2","4","8"],"range":["#e3101e","#f0a800","#36c936","#2a2ab0","#e8003a","#1d5fc4"]},"legend":null},
"shape":{"field":"s","type":"nominal","scale":{"domain":["no slip","0.5","1","2","4","8"],"range":["square","triangle-up","triangle-down","circle","square","circle"]},"legend":null}
}}
],
"resolve":{"scale":{"color":"independent","shape":"independent"},"axis":{"x":"independent","y":"independent"}}
},
{"title":{"text":"(b)"},"width":165,"height":158,"data":{"name":"b"},
"layer":[
{"mark":{"type":"line","strokeWidth":1},
"encoding":{
"x":{"field":"x","type":"quantitative","scale":{"domain":[200,300],"nice":false},"axis":{"title":"x (μm)","orient":"bottom","values":[200,212.5,225,237.5,250,262.5,275,287.5,300],"labelExpr":"datum.value % 25 == 0 ? '' + datum.value : ''"}},
"y":{"field":"y","type":"quantitative","scale":{"domain":[-15,0],"nice":false},"axis":{"title":"Velocity (mm/s)","orient":"left","values":[-15,-12.5,-10,-7.5,-5,-2.5,0],"labelExpr":"datum.value % 5 == 0 ? '' + datum.value : ''"}},
"color":{"field":"s","type":"nominal","scale":{"domain":["no slip","0.5","1","2","4","8"],"range":["#f2314b","#ffd23c","#7fe97a","#9b9be8","#ff2c5f","#6faae8"]},"legend":{"title":null,"legendX":55,"legendY":4,"labelExpr":"datum.label == 'no slip' ? 'no slip' : 'Lsd=' + datum.label + 'μm'"}}
}},
{"mark":{"type":"point","filled":true,"size":7,"opacity":1},
"encoding":{
"x":{"field":"x","type":"quantitative","axis":{"title":null,"orient":"top","labels":false,"values":[200,212.5,225,237.5,250,262.5,275,287.5,300]}},
"y":{"field":"y","type":"quantitative","axis":{"title":null,"orient":"right","labels":false,"values":[-15,-12.5,-10,-7.5,-5,-2.5,0]}},
"color":{"field":"s","type":"nominal","scale":{"domain":["no slip","0.5","1","2","4","8"],"range":["#e3101e","#f0a800","#36c936","#2a2ab0","#e8003a","#1d5fc4"]},"legend":null},
"shape":{"field":"s","type":"nominal","scale":{"domain":["no slip","0.5","1","2","4","8"],"range":["square","triangle-up","triangle-down","circle","square","circle"]},"legend":null}
}}
],
"resolve":{"scale":{"color":"independent","shape":"independent"},"axis":{"x":"independent","y":"independent"}}
},
{"title":{"text":"(c)"},"width":168,"height":158,"data":{"name":"c"},
"layer":[
{"mark":{"type":"line","strokeWidth":1},
"encoding":{
"x":{"field":"x","type":"quantitative","scale":{"domain":[0,100],"nice":false},"axis":{"title":"y (μm)","orient":"bottom","values":[0,12.5,25,37.5,50,62.5,75,87.5,100],"labelExpr":"datum.value % 25 == 0 ? '' + datum.value : ''"}},
"y":{"field":"y","type":"quantitative","scale":{"domain":[0,40],"nice":false},"axis":{"title":"Shear stress (Pa)","orient":"left","values":[0,5,10,15,20,25,30,35,40],"labelExpr":"datum.value % 10 == 0 ? '' + datum.value : ''"}},
"color":{"field":"s","type":"nominal","scale":{"domain":["no slip","0.5","1","2","4","8"],"range":["#f2314b","#ffd23c","#7fe97a","#9b9be8","#ff2c5f","#6faae8"]},"legend":{"title":null,"legendX":55,"legendY":7,"labelExpr":"datum.label == 'no slip' ? 'no slip' : 'Lsd=' + datum.label + 'μm'"}}
}},
{"mark":{"type":"point","filled":true,"size":7,"opacity":1},
"encoding":{
"x":{"field":"x","type":"quantitative","axis":{"title":null,"orient":"top","labels":false,"values":[0,12.5,25,37.5,50,62.5,75,87.5,100]}},
"y":{"field":"y","type":"quantitative","axis":{"title":null,"orient":"right","labels":false,"values":[0,5,10,15,20,25,30,35,40]}},
"color":{"field":"s","type":"nominal","scale":{"domain":["no slip","0.5","1","2","4","8"],"range":["#e3101e","#f0a800","#36c936","#2a2ab0","#e8003a","#1d5fc4"]},"legend":null},
"shape":{"field":"s","type":"nominal","scale":{"domain":["no slip","0.5","1","2","4","8"],"range":["square","triangle-up","triangle-down","circle","square","circle"]},"legend":null}
}}
],
"resolve":{"scale":{"color":"independent","shape":"independent"},"axis":{"x":"independent","y":"independent"}}
},
{"title":{"text":"(d)"},"width":165,"height":158,"data":{"name":"d"},
"layer":[
{"mark":{"type":"line","strokeWidth":1},
"encoding":{
"x":{"field":"x","type":"quantitative","scale":{"domain":[200,300],"nice":false},"axis":{"title":"x (μm)","orient":"bottom","values":[200,212.5,225,237.5,250,262.5,275,287.5,300],"labelExpr":"datum.value % 25 == 0 ? '' + datum.value : ''"}},
"y":{"field":"y","type":"quantitative","scale":{"domain":[0,4],"nice":false},"axis":{"title":"Shear stress (Pa)","orient":"left","values":[0,0.5,1,1.5,2,2.5,3,3.5,4],"labelExpr":"datum.value % 1 == 0 ? '' + datum.value : ''"}},
"color":{"field":"s","type":"nominal","scale":{"domain":["no slip","0.5","1","2","4","8"],"range":["#f2314b","#ffd23c","#7fe97a","#9b9be8","#ff2c5f","#6faae8"]},"legend":{"title":null,"legendX":56,"legendY":3,"labelExpr":"datum.label == 'no slip' ? 'no slip' : 'Lsd=' + datum.label + 'μm'"}}
}},
{"mark":{"type":"point","filled":true,"size":7,"opacity":1},
"encoding":{
"x":{"field":"x","type":"quantitative","axis":{"title":null,"orient":"top","labels":false,"values":[200,212.5,225,237.5,250,262.5,275,287.5,300]}},
"y":{"field":"y","type":"quantitative","axis":{"title":null,"orient":"right","labels":false,"values":[0,0.5,1,1.5,2,2.5,3,3.5,4]}},
"color":{"field":"s","type":"nominal","scale":{"domain":["no slip","0.5","1","2","4","8"],"range":["#e3101e","#f0a800","#36c936","#2a2ab0","#e8003a","#1d5fc4"]},"legend":null},
"shape":{"field":"s","type":"nominal","scale":{"domain":["no slip","0.5","1","2","4","8"],"range":["square","triangle-up","triangle-down","circle","square","circle"]},"legend":null}
}}
],
"resolve":{"scale":{"color":"independent","shape":"independent"},"axis":{"x":"independent","y":"independent"}}
}
]
}
